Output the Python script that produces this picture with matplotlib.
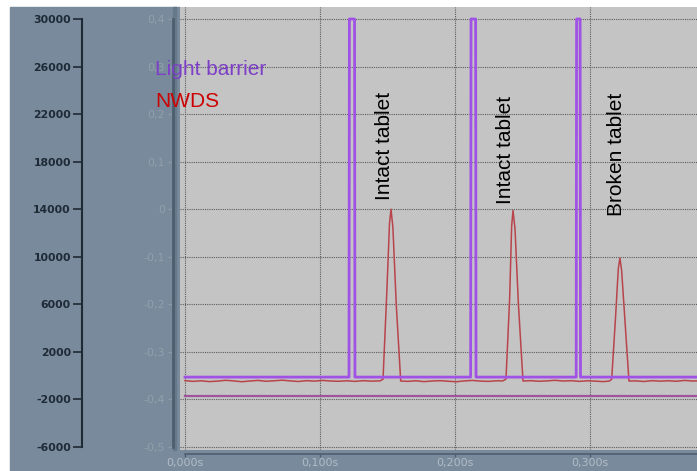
import numpy as np
import matplotlib
matplotlib.use("Agg")
import matplotlib.pyplot as plt
from matplotlib.patches import Rectangle

plt.rcParams["axes.unicode_minus"] = False

# light barrier signal (V), step edges
lb_t = [0.000, 0.1215, 0.1218, 0.1256, 0.1259, 0.2116, 0.2119, 0.2153, 0.2156,
        0.2898, 0.2901, 0.2927, 0.2930, 0.380]
lb_v = [-0.353, -0.353, 0.400, 0.400, -0.353, -0.353, 0.400, 0.400, -0.353,
        -0.353, 0.400, 0.400, -0.353, -0.353]

# NWDS signal (counts)
nwds_t = [0.000, 0.006, 0.012, 0.018, 0.024, 0.030, 0.036, 0.042, 0.048, 0.054,
          0.060, 0.066, 0.072, 0.078, 0.084, 0.090, 0.096, 0.102, 0.108, 0.114,
          0.120, 0.126, 0.132, 0.138, 0.1445, 0.1467, 0.1495, 0.1515, 0.1526,
          0.1540, 0.1565, 0.1598, 0.165, 0.171, 0.177, 0.183, 0.189, 0.195,
          0.201, 0.207, 0.213, 0.219, 0.225, 0.231, 0.2355, 0.2378, 0.2405,
          0.2420, 0.2430, 0.2445, 0.2470, 0.2504, 0.256, 0.262, 0.268, 0.274,
          0.280, 0.286, 0.292, 0.298, 0.304, 0.310, 0.3145, 0.3161, 0.3190,
          0.3210, 0.3222, 0.3235, 0.3260, 0.3289, 0.334, 0.340, 0.346, 0.352,
          0.358, 0.364, 0.370, 0.376, 0.380]
nwds_v = [-420, -480, -430, -500, -460, -390, -440, -510, -450, -400,
          -470, -430, -380, -440, -490, -420, -460, -400, -450, -470,
          -430, -480, -420, -460, -440, -300, 7000, 12800, 14000,
          12500, 6000, -450, -480, -430, -500, -450, -420, -470,
          -510, -440, -400, -460, -480, -430, -440, -280, 6500,
          12600, 13900, 12300, 6000, -450, -420, -470, -440, -390,
          -450, -420, -480, -430, -460, -500, -450, -300, 5000,
          9000, 9900, 8800, 4500, -450, -440, -490, -420, -460,
          -430, -470, -400, -450, -440]

# flat reference channel (V)
ref_t = [0.000, 0.380]
ref_v = [-0.393, -0.393]

labels = [("Intact tablet", 0.1481, 14776),
          ("Intact tablet", 0.2378, 14440),
          ("Broken tablet", 0.3193, 13430)]

W, H = 697, 471
fig = plt.figure(figsize=(W / 100, H / 100), dpi=100)
fig.patch.set_facecolor("white")
slate = "#788a9b"
fig.patches.append(Rectangle((10 / W, 0), (180 - 10) / W, (H - 7) / H,
                             transform=fig.transFigure, color=slate, zorder=-1))
fig.patches.append(Rectangle((180 / W, 0), (W - 180) / W, (H - 450) / H,
                             transform=fig.transFigure, color=slate, zorder=-1))
# darker band next to the plot area
fig.patches.append(Rectangle((173 / W, (H - 450) / H), 3 / W, (450 - 7) / H,
                             transform=fig.transFigure, color="#66798b", zorder=-1))

ax = fig.add_axes([180 / W, (H - 450) / H, (W - 180) / W, (450 - 7) / H])
ax.set_facecolor("#c4c4c4")
ax.set_xlim(-0.0037, 0.3793)
ax.set_ylim(-6252, 31009)

ax2 = ax.twinx()
ax2.set_ylim(-0.5063, 0.42522)

ax.plot(nwds_t, nwds_v, color="#b8444c", lw=1.1, zorder=4)
ax2.plot(lb_t, lb_v, color="#a052e6", lw=2.0, zorder=3)
ax2.plot(ref_t, ref_v, color="#a0529c", lw=1.6, zorder=3)

# grid
ax.set_yticks(np.arange(-6000, 30001, 4000))
ax.set_xticks([0.0, 0.1, 0.2, 0.3])
ax.grid(True, color="#5c5c5c", linestyle=(0, (1, 1)), lw=0.8)
ax.set_axisbelow(True)

# left count axis
for s in ["top", "right"]:
    ax.spines[s].set_visible(False)
    ax2.spines[s].set_visible(False)
ax.spines["left"].set_position(("outward", 98 * 0.72))
ax.spines["left"].set_bounds(-6000, 30000)
ax.spines["left"].set_color("#1e2a36")
ax.spines["left"].set_linewidth(1.5)
ax.tick_params(axis="y", length=6.5, width=1.2, color="#1e2a36", pad=1.5,
               labelcolor="#1e2a36", labelsize=7.8)
for t in ax.get_yticklabels():
    t.set_fontweight("bold")

# secondary volt axis on the left
ax2.yaxis.tick_left()
ax2.spines["left"].set_visible(True)
ax2.spines["left"].set_position(("outward", 7 * 0.72))
ax2.spines["left"].set_bounds(-0.5, 0.4)
ax2.spines["left"].set_color("#4d5e6e")
ax2.spines["left"].set_linewidth(2.0)
ax2.spines["bottom"].set_visible(False)
ax2.set_yticks([0.4, 0.3, 0.2, 0.1, 0.0, -0.1, -0.2, -0.3, -0.4, -0.5])
ax2.set_yticklabels(["0,4", "0,3", "0,2", "0,1", "0", "-0,1", "-0,2", "-0,3",
                     "-0,4", "-0,5"])
ax2.tick_params(axis="y", length=3.6, width=1.0, color="#8d99a6", pad=2,
                labelcolor="#939fab", labelsize=8)

# time axis
ax.spines["bottom"].set_position(("outward", 4 * 0.72))
ax.spines["bottom"].set_bounds(0.0, 0.3793)
ax.spines["bottom"].set_color("#4d5e6e")
ax.spines["bottom"].set_linewidth(1.2)
ax.set_xticklabels(["0,000s", "0,100s", "0,200s", "0,300s"])
ax.tick_params(axis="x", length=2.5, width=1.0, color="#4d5e6e", pad=0.5,
               labelcolor="#b2bcc6", labelsize=8)

for txt, x, y in labels:
    ax.text(x, y, txt, rotation=90, ha="center", va="bottom", fontsize=15,
            family="Liberation Sans", color="black", zorder=6)

fig.text(155 / W, 1 - 75 / H, "Light barrier", color="#7d3fc6", fontsize=15,
         family="Liberation Sans", va="baseline", zorder=10)
fig.text(155 / W, 1 - 107 / H, "NWDS", color="#cc0000", fontsize=15,
         family="Liberation Sans", va="baseline", zorder=10)

fig.savefig("out.png", dpi=100)
